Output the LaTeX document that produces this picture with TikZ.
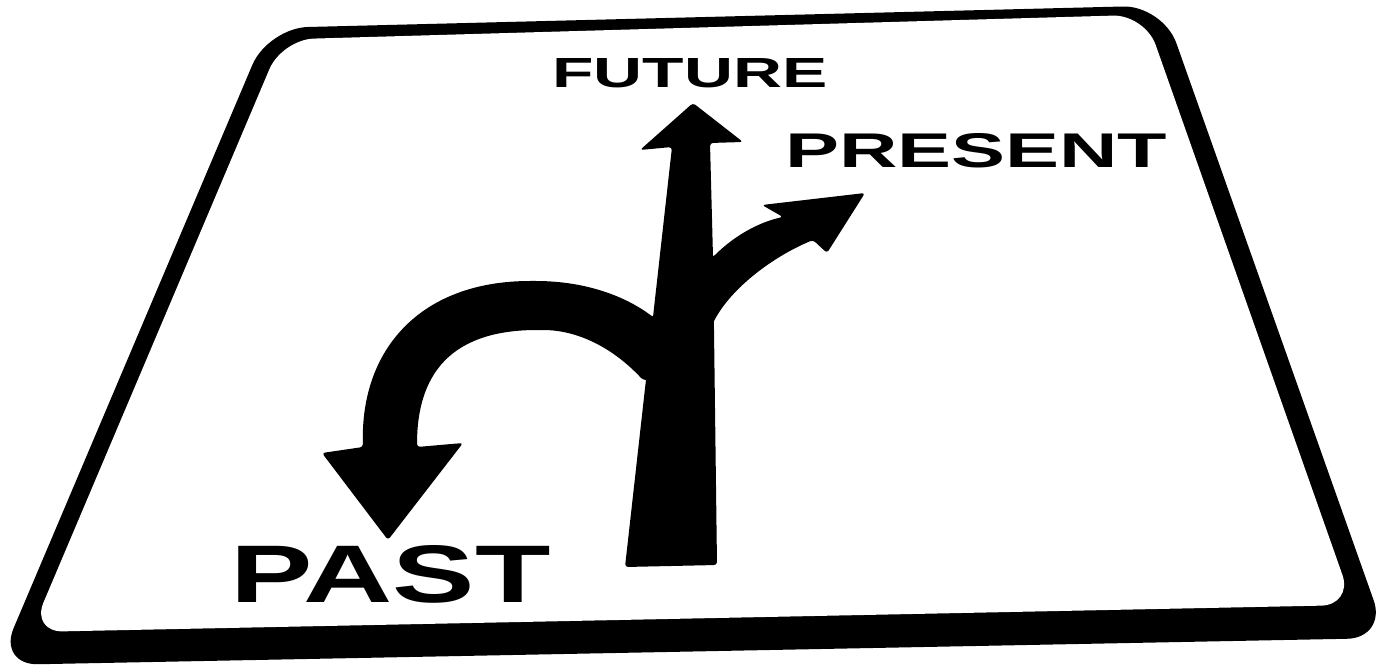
\documentclass[tikz,border=0pt]{standalone}
\usepackage{graphicx}
\usepackage{fontspec}
\setmainfont{Liberation Sans}
\tikzset{
  blk/.style={fill=black},
  lbl/.style={anchor=north west, inner sep=0pt, font=\bfseries},
}
\begin{document}
\begin{tikzpicture}[x=1pt,y=-1pt]
\useasboundingbox (0,0) rectangle (1378,668);
\fill[white] (0,0) rectangle (1378,668);
\begin{scope}
\clip (0,0) rectangle (1378,668);
% sign frame
\fill[blk, rounded corners=40pt] (268,28) -- (1163,5.5) -- (1387,638) -- (-2,665) -- cycle;
\fill[white, rounded corners=32pt] (282,39.5) -- (1145,14.7) -- (1353,605) -- (31,632) -- cycle;
\end{scope}
% trunk and FUTURE arrow
\fill[blk, rounded corners=3pt] (625,567) -- (717,565) -- (714,330) -- (713,257) -- (710,143)
  -- (743,142) -- (693,103) -- (640,150) -- (672,147) -- (653,317) -- cycle;
% PRESENT branch
\fill[blk, rounded corners=3pt] (705,340) -- (713,323) .. controls (730,290) and (770,258) .. (813,240)
  -- (827,253) -- (865,193) -- (762,205) -- (783,217)
  .. controls (760,222) and (735,235) .. (713,257) -- (700,257) -- cycle;
% PAST u-turn
\fill[blk, rounded corners=3pt] (660,317) -- (653,317) .. controls (625,296) and (585,281) .. (533,281)
  .. controls (420,281) and (360,350) .. (363,447) -- (322,453) -- (388,540) -- (463,443) -- (417,447)
  .. controls (417,365) and (460,330) .. (540,330) .. controls (580,330) and (615,350) .. (643,380)
  -- (660,380) -- cycle;
% labels
\node[lbl] (future) at (552,58) {\resizebox{275pt}{29pt}{FUTURE}};
\node[lbl] (present) at (785,133) {\resizebox{382pt}{34pt}{PRESENT}};
\node[lbl] (past) at (230,545) {\resizebox{320pt}{57pt}{PAST}};
\end{tikzpicture}
\end{document}
